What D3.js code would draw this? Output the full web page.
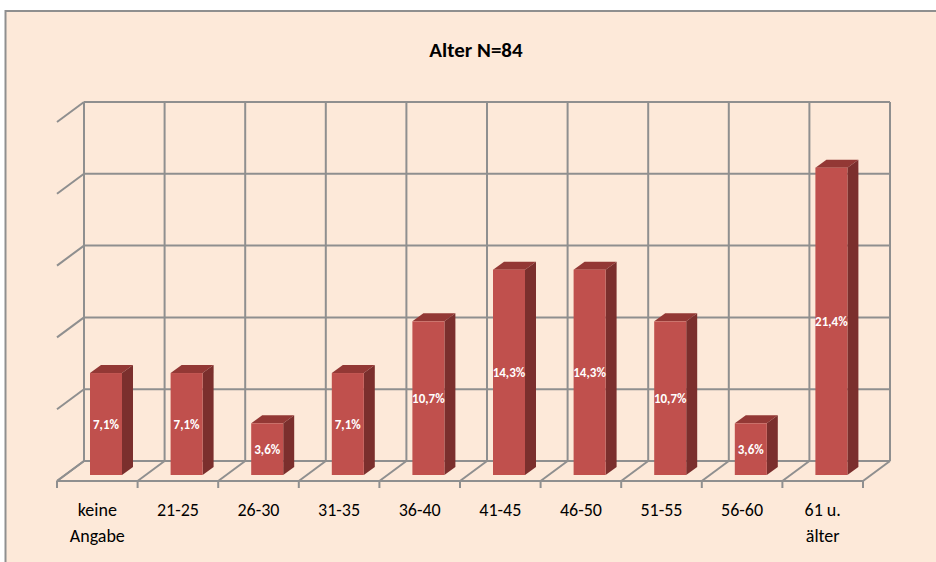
<!DOCTYPE html>
<html>
<head>
<style>
body { margin: 0; background: #fff; }
svg { display: block; }
text { font-family: Carlito, Lato, "Noto Sans", sans-serif; }
</style>
<script src="https://d3js.org/d3.v7.min.js"></script>
</head>
<body>
<script>
// values
const categories = [["keine", "Angabe"], ["21-25"], ["26-30"], ["31-35"], ["36-40"], ["41-45"], ["46-50"], ["51-55"], ["56-60"], ["61 u.", "älter"]];
const values = [7.1, 7.1, 3.6, 7.1, 10.7, 14.3, 14.3, 10.7, 3.6, 21.4];
const gridTicks = [0, 5, 10, 15, 20, 25];
const title = "Alter N=84";

const width = 936, height = 562;
const gridColor = "#8f8f8f";

// depth of the fake 3d floor
const floorDx = 27, floorDy = 20;
// depth of a bar
const barDx = 11, barDy = 8;

const svg = d3.select("body").append("svg")
    .attr("width", width)
    .attr("height", height);

// chart area with its border, runs off the page on right and bottom
svg.append("rect")
    .attr("x", 0).attr("y", 0)
    .attr("width", width).attr("height", height)
    .attr("fill", "#fff");
svg.append("rect")
    .attr("x", 5.5).attr("y", 11)
    .attr("width", 940).attr("height", 570)
    .attr("fill", "#fde9d9")
    .attr("stroke", gridColor)
    .attr("stroke-width", 2);

svg.append("text")
    .attr("x", 476).attr("y", 57)
    .attr("text-anchor", "middle")
    .attr("font-size", 21)
    .attr("font-weight", "bold")
    .text(title);

// x scale is the front edge of the floor, y scale is the back wall
const x = d3.scaleBand()
    .domain(d3.range(categories.length))
    .range([57, 863]);
const y = d3.scaleLinear()
    .domain([0, 25])
    .range([461, 102]);

const grid = svg.append("g")
    .attr("fill", "none")
    .attr("stroke", gridColor)
    .attr("stroke-width", 2);

// horizontal lines on back wall + diagonal on the left wall
gridTicks.forEach(t => {
    grid.append("line")
        .attr("x1", x.range()[0] + floorDx).attr("x2", x.range()[1] + floorDx)
        .attr("y1", y(t)).attr("y2", y(t));
    grid.append("line")
        .attr("x1", x.range()[0] + floorDx).attr("x2", x.range()[0])
        .attr("y1", y(t)).attr("y2", y(t) + floorDy);
});

// vertical lines on back wall, floor diagonals and ticks
const edges = d3.range(categories.length + 1).map(i => x.range()[0] + i * x.step());
edges.forEach(e => {
    grid.append("line")
        .attr("x1", e + floorDx).attr("x2", e + floorDx)
        .attr("y1", y(0)).attr("y2", y(25));
    grid.append("line")
        .attr("x1", e + floorDx).attr("x2", e)
        .attr("y1", y(0)).attr("y2", y(0) + floorDy);
    grid.append("line")
        .attr("x1", e).attr("x2", e)
        .attr("y1", y(0) + floorDy).attr("y2", y(0) + floorDy + 7);
});
grid.append("line")
    .attr("x1", x.range()[0]).attr("x2", x.range()[1])
    .attr("y1", y(0) + floorDy).attr("y2", y(0) + floorDy);

// bars stand a bit in front of the back wall
const barBase = y(0) + 14;
const barH = d3.scaleLinear().domain([0, 25]).range([0, y(0) - y(25)]);
const barW = 32;
const barX = i => x(i) + 33;

const bars = svg.append("g").selectAll("g")
    .data(values)
    .join("g");

bars.append("path")
    .attr("fill", "#933835")
    .attr("d", (d, i) => {
        const l = barX(i), t = barBase - barH(d);
        return `M${l},${t}L${l + barDx},${t - barDy}H${l + barW + barDx}L${l + barW},${t}Z`;
    });
bars.append("path")
    .attr("fill", "#7b2f2d")
    .attr("d", (d, i) => {
        const r = barX(i) + barW, t = barBase - barH(d);
        return `M${r},${t}L${r + barDx},${t - barDy}V${barBase - barDy}L${r},${barBase}Z`;
    });
bars.append("rect")
    .attr("x", (d, i) => barX(i))
    .attr("y", d => barBase - barH(d))
    .attr("width", barW)
    .attr("height", d => barH(d))
    .attr("fill", "#c0504d");

bars.append("text")
    .attr("x", (d, i) => barX(i) + barW / 2)
    .attr("y", d => barBase - barH(d) / 2 + 5)
    .attr("text-anchor", "middle")
    .attr("font-size", 13)
    .attr("font-weight", "bold")
    .attr("fill", "#fff")
    .text(d => d.toFixed(1).replace(".", ",") + "%");

// category labels
svg.append("g").selectAll("text")
    .data(categories)
    .join("text")
    .attr("font-size", 18)
    .attr("text-anchor", "middle")
    .attr("fill", "#000")
    .each(function (d, i) {
        d3.select(this).selectAll("tspan")
            .data(d)
            .join("tspan")
            .attr("x", x(i) + x.bandwidth() / 2)
            .attr("y", (_, j) => 516 + j * 26)
            .text(t => t);
    });
</script>
</body>
</html>
